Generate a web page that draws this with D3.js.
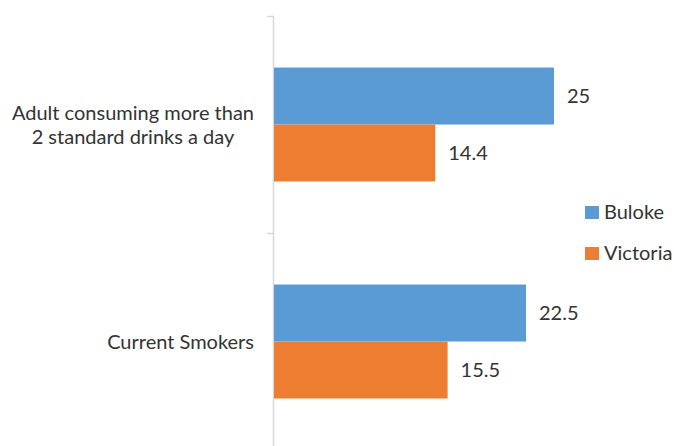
<!DOCTYPE html>
<html>
<head>
<meta charset="utf-8">
<script src="https://cdn.jsdelivr.net/npm/d3@7"></script>
<style>
  html, body { margin: 0; padding: 0; background: #fff; }
</style>
</head>
<body>
<div id="chart"></div>
<script>
// veriler
const categories = ["Adult consuming more than|2 standard drinks a day", "Current Smokers"];
const seriesNames = ["Buloke", "Victoria"];
const buloke = [25, 22.5];
const victoria = [14.4, 15.5];
const colors = ["#5B9BD5", "#ED7D31"];

const width = 675, height = 446;
const font = "Lato, 'Open Sans', sans-serif";
const textColor = "#333";

const svg = d3.select("#chart")
    .append("svg")
    .attr("width", width)
    .attr("height", height)
    .style("display", "block");

const x = d3.scaleLinear().domain([0, 30]).range([274, 610]);
const y = d3.scaleBand().domain(categories).range([16, 450])
    .paddingInner(0.475).paddingOuter(0.2375);
const y1 = d3.scaleBand().domain(seriesNames).range([0, y.bandwidth()]);

const rows = categories.map((c, i) => ({
    cat: c,
    values: [
        { name: "Buloke", value: buloke[i] },
        { name: "Victoria", value: victoria[i] }
    ]
}));

// eksen çizgisi
svg.append("g")
    .attr("transform", `translate(${x(0) - 0.5},0)`)
    .call(d3.axisLeft(y).tickSize(0).tickFormat(""))
    .call(g => g.select(".domain").attr("stroke", "#d9d9d9").attr("stroke-width", 1.5).attr("d", `M0,${y.range()[0]}V${y.range()[1]}`));

// kategori sınır çizgileri
const bounds = categories.map(c => y(c) - y.step() * y.paddingInner() / 2).concat([y.range()[1]]);
svg.selectAll(".tk")
    .data(bounds)
    .enter()
    .append("line")
    .attr("x1", x(0) - 7)
    .attr("x2", x(0))
    .attr("y1", d => Math.round(d) + 0.5)
    .attr("y2", d => Math.round(d) + 0.5)
    .attr("stroke", "#d9d9d9")
    .attr("stroke-width", 1.5);

const grp = svg.selectAll(".grp")
    .data(rows)
    .enter()
    .append("g")
    .attr("transform", d => `translate(0,${y(d.cat)})`);

// barlar
grp.selectAll("rect")
    .data(d => d.values)
    .enter()
    .append("rect")
    .attr("x", x(0))
    .attr("y", d => y1(d.name))
    .attr("width", d => x(d.value) - x(0))
    .attr("height", y1.bandwidth())
    .attr("fill", (d, i) => colors[i]);

// değer etiketleri
grp.selectAll(".val")
    .data(d => d.values)
    .enter()
    .append("text")
    .attr("x", d => x(d.value) + 13)
    .attr("y", d => y1(d.name) + y1.bandwidth() / 2 + 7)
    .text(d => d.value)
    .style("font-family", font)
    .style("font-size", "20px")
    .style("fill", textColor);

// kategori etiketleri (satırlar ortalı, blok sağa yaslı)
const labelRight = 254;
svg.selectAll(".cat")
    .data(categories)
    .enter()
    .append("text")
    .attr("text-anchor", "middle")
    .attr("y", d => y(d) + y.bandwidth() / 2 + 7)
    .style("font-family", font)
    .style("font-size", "20px")
    .style("fill", textColor)
    .each(function(d) {
        const lines = d.split("|");
        const t = d3.select(this);
        const spans = lines.map((ln, i) => t.append("tspan")
            .attr("dy", i === 0 ? -(lines.length - 1) * 12 : 24)
            .text(ln));
        const maxW = d3.max(spans, s => s.node().getComputedTextLength());
        spans.forEach(s => s.attr("x", labelRight - maxW / 2));
    });

// lejant
const leg = svg.selectAll(".leg")
    .data(seriesNames)
    .enter()
    .append("g")
    .attr("transform", (d, i) => `translate(585,${206 + i * 41})`);
leg.append("rect")
    .attr("width", 14)
    .attr("height", 13)
    .attr("fill", (d, i) => colors[i]);
leg.append("text")
    .attr("x", 19)
    .attr("y", 13)
    .text(d => d)
    .style("font-family", font)
    .style("font-size", "20px")
    .style("fill", textColor);
</script>
</body>
</html>
